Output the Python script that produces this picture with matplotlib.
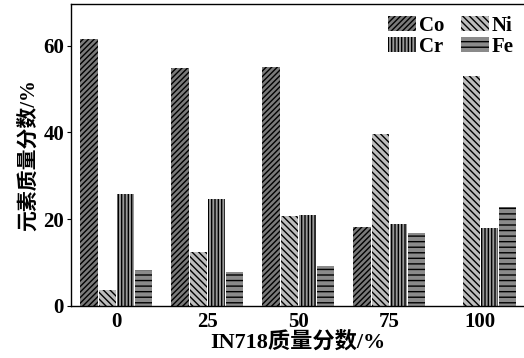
import matplotlib
matplotlib.use("Agg")
import matplotlib.pyplot as plt
import numpy as np

# IN718 content of the samples (%)
groups = ["0", "25", "50", "75", "100"]
elements = ["Co", "Ni", "Cr", "Fe"]

# element mass fraction (%) per sample
co = [61.5, 54.9, 55.0, 18.2, 0.0]
ni = [3.6, 12.4, 20.8, 39.6, 52.9]
cr = [25.8, 24.6, 20.9, 19.0, 18.0]
fe = [8.2, 7.8, 9.2, 16.8, 22.9]

series = [co, ni, cr, fe]
faces = ["#7a7a7a", "#bdbdbd", "#9a9a9a", "#8a8a8a"]
hatches = ["//////", "\\\\\\\\\\", "|||||", "---"]

plt.rcParams["hatch.linewidth"] = 1.0
serif = ["Liberation Serif", "Noto Sans CJK SC"]

fig = plt.figure(figsize=(5.24, 3.58), dpi=100)
ax = fig.add_axes([0.1355, 0.1453, 0.8645, 0.8435])

x = np.arange(len(groups))
w = 0.2
handles = []
for i, (vals, fc, h, name) in enumerate(zip(series, faces, hatches, elements)):
    b = ax.bar(x + (i - 1.5) * w, vals, width=w * 0.95, color=fc,
               edgecolor="black", linewidth=0, hatch=h, label=name)
    handles.append(b)

ax.set_xlim(-0.498, 4.48)
ax.set_ylim(0, 69.6)
ax.set_yticks([0, 20, 40, 60])
ax.set_xticks(x)
ax.set_xticklabels(groups)

for lab in ax.get_xticklabels() + ax.get_yticklabels():
    lab.set_fontfamily(serif)
    lab.set_fontweight("bold")
    lab.set_fontsize(15)

ax.tick_params(axis="x", length=0, pad=4)
ax.tick_params(axis="y", length=3, width=0.8, direction="out", pad=2)

for side in ["left", "bottom", "top"]:
    ax.spines[side].set_linewidth(1.0)
ax.spines["right"].set_visible(False)

ax.set_xlabel("IN718质量分数/%", family=serif, fontweight="bold",
              fontsize=16, labelpad=0)
ax.set_ylabel("元素质量分数/%", family=serif, fontweight="bold",
              fontsize=15, labelpad=3)

# row-major legend order: Co Ni / Cr Fe
order = [0, 2, 1, 3]
leg = ax.legend([handles[k] for k in order], [elements[k] for k in order],
                ncol=2, loc="upper right", bbox_to_anchor=(1.0, 0.995),
                frameon=False, prop={"family": serif, "weight": "bold", "size": 15},
                handlelength=1.35, handleheight=0.75, handletextpad=0.12,
                columnspacing=0.8, labelspacing=0.05, borderpad=0.3,
                borderaxespad=0.2)

fig.savefig("out.png", dpi=100)
